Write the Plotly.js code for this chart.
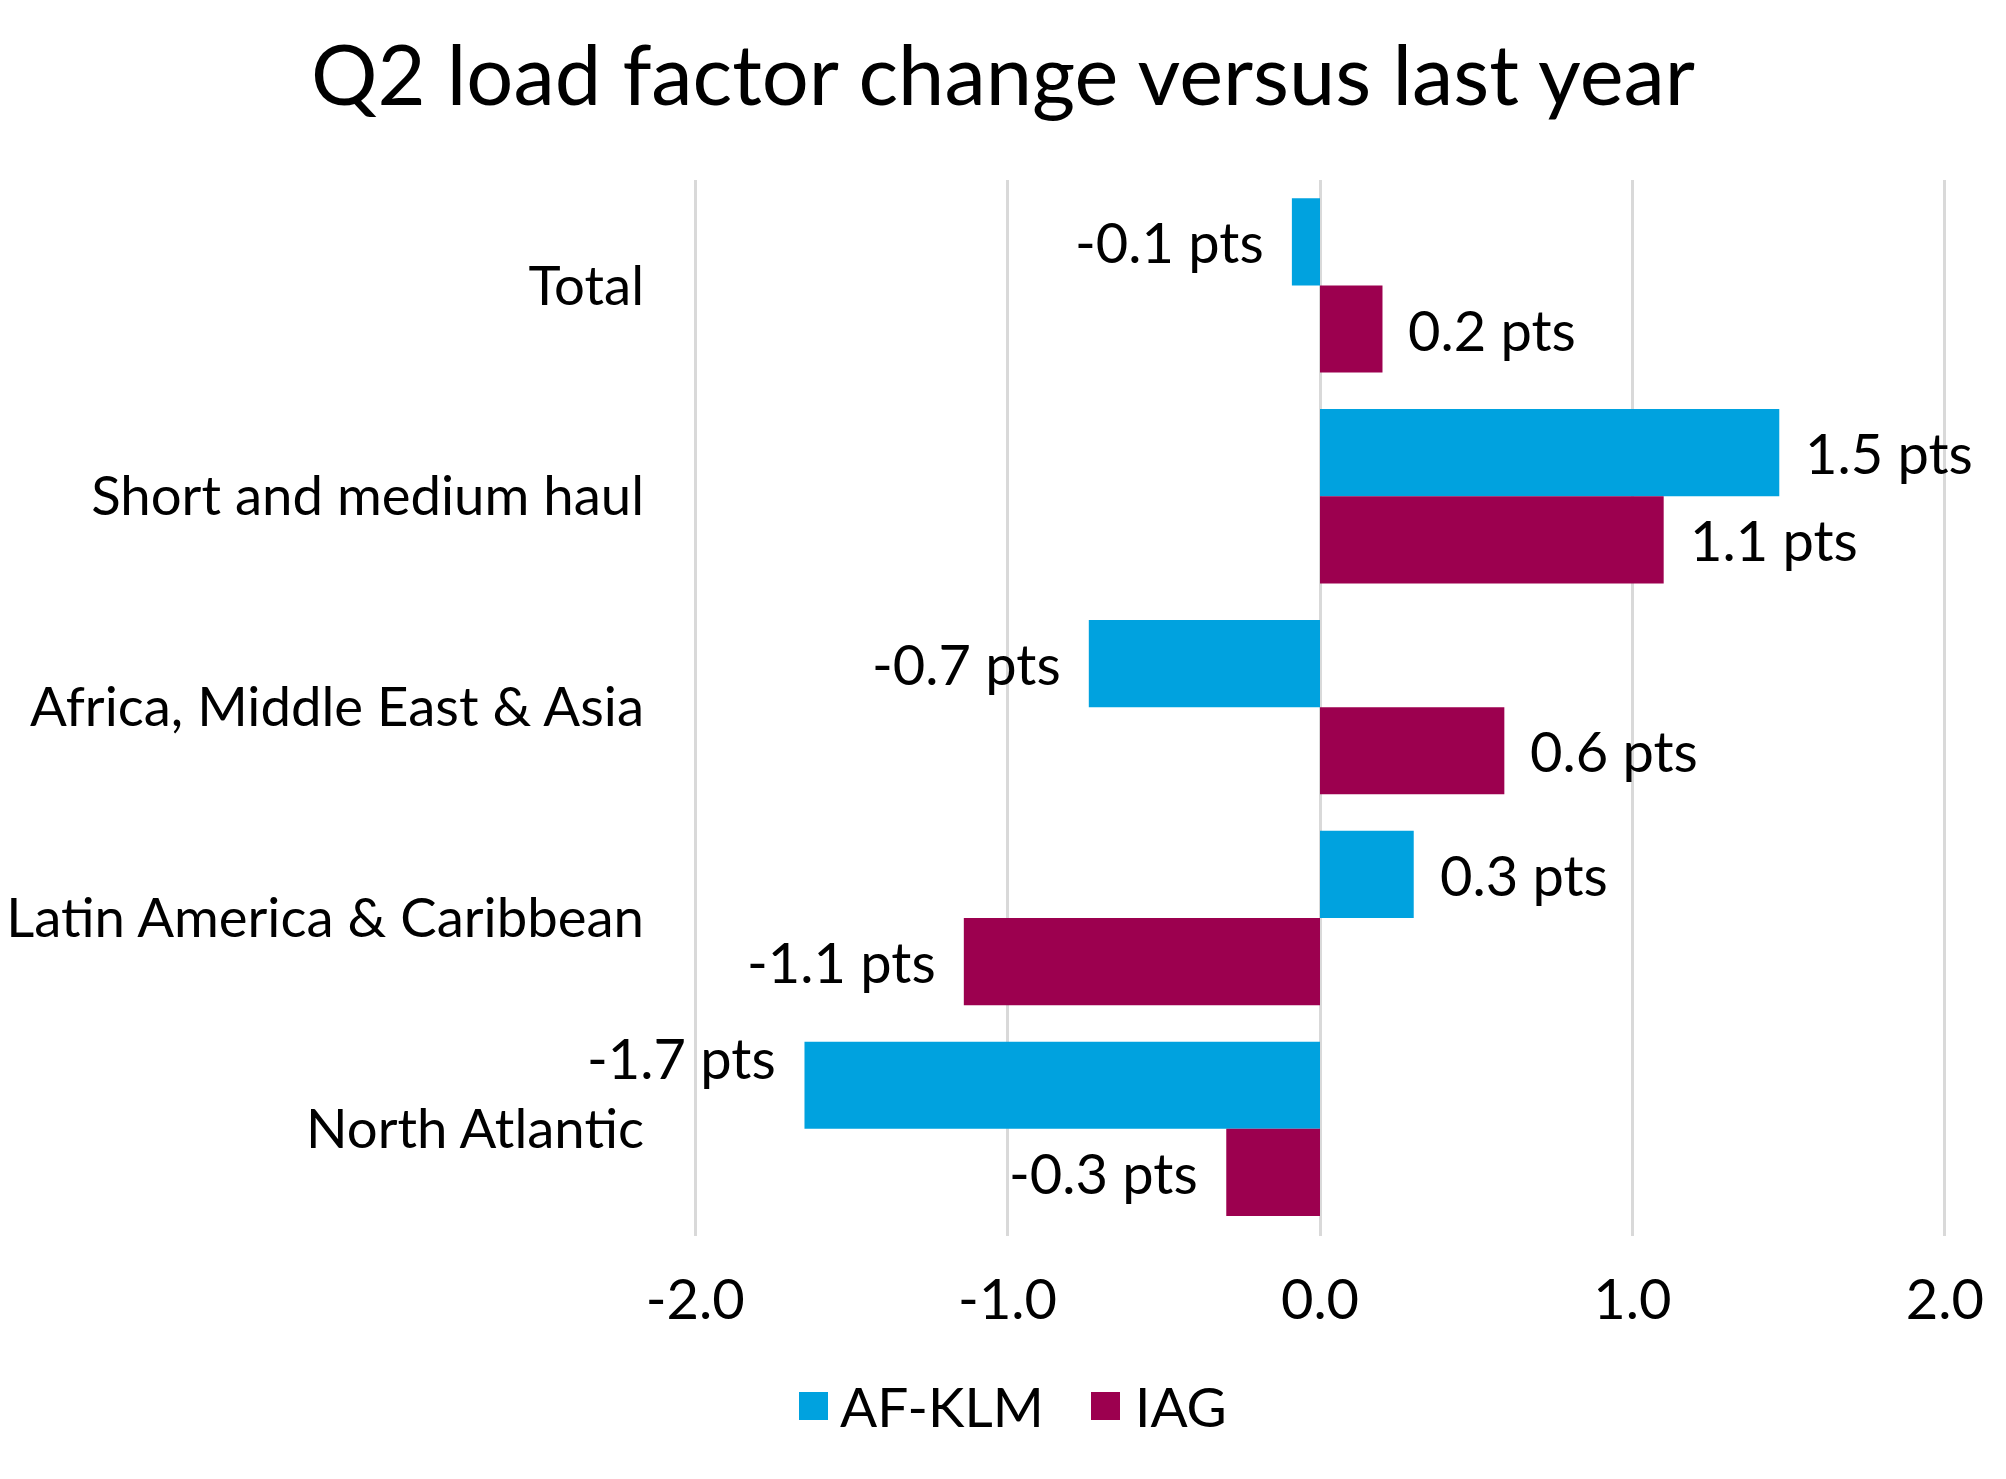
<!DOCTYPE html>
<html>
<head>
<meta charset="utf-8">
<script src="https://cdn.plot.ly/plotly-3.0.1.min.js"></script>
<style>
  html, body { margin: 0; padding: 0; background: #fff; }
  #chart { width: 2006px; height: 1479px; }
</style>
</head>
<body>
<div id="chart"></div>
<script>
// Values (bar ends), labels as printed
const categories = [
  "Total",
  "Short and medium haul",
  "Africa, Middle East & Asia",
  "Latin America & Caribbean",
  "North Atlantic",
];
const afklmValues = [-0.09, 1.47, -0.74, 0.30, -1.65];
const iagValues = [0.20, 1.10, 0.59, -1.14, -0.30];
const afklmLabels = ["-0.1 pts", "1.5 pts", "-0.7 pts", "0.3 pts", "-1.7 pts"];
const iagLabels = ["0.2 pts", "1.1 pts", "0.6 pts", "-1.1 pts", "-0.3 pts"];
const xTickValues = [-2, -1, 0, 1, 2];
const xTickLabels = ["-2.0", "-1.0", "0.0", "1.0", "2.0"];

const FONT = "Lato, 'Open Sans', sans-serif";
const W = 2006, H = 1479;
// a hair of extra range so the gridlines at -2 and 2 are not dropped at the edges
const X_RANGE = [-2.01, 2.01];
const margin = { l: 692, r: 58, t: 180, b: 243, pad: 0 };
const BARGAP = 0.173;
const plotW = W - margin.l - margin.r;
const plotH = H - margin.t - margin.b;

const series = [
  { name: "AF-KLM", color: "#00A2DF", values: afklmValues, labels: afklmLabels },
  { name: "IAG", color: "#9C004F", values: iagValues, labels: iagLabels },
];

// the -1.7 label sits a little higher in the original to clear the category text
const labelNudge = { "AF-KLM|North Atlantic": 28 };

// pixel -> paper helpers for the hand-drawn legend
const px2x = (px) => (px - margin.l) / plotW;
const px2y = (py) => (H - margin.b - py) / plotH;

const traces = series.map((s) => ({
  type: "bar",
  orientation: "h",
  name: s.name,
  y: categories,
  x: s.values,
  marker: { color: s.color, line: { width: 0 } },
  showlegend: false,
  hoverinfo: "skip",
}));

// outside-end data labels, offset to each bar's slot in the group
const bandPx = plotH / categories.length;
const barPx = (bandPx * (1 - BARGAP)) / series.length;
const annotations = [];
series.forEach((s, si) => {
  const slotShift = ((series.length - 1) / 2 - si) * barPx;
  s.values.forEach((v, i) => {
    const nudge = labelNudge[`${s.name}|${categories[i]}`] || 0;
    annotations.push({
      x: v,
      y: categories[i],
      xref: "x",
      yref: "y",
      text: s.labels[i],
      showarrow: false,
      xanchor: v < 0 ? "right" : "left",
      yanchor: "middle",
      xshift: v < 0 ? -26 : 24,
      yshift: slotShift + nudge,
      font: { family: FONT, size: 56, color: "#000" },
    });
  });
});

// legend: square swatches + names under the axis
const legendItems = [
  { name: "AF-KLM", color: series[0].color, sq: 799, txt: 838 },
  { name: "IAG", color: series[1].color, sq: 1091, txt: 1133 },
];
const legendY = 1406;
const shapes = [];
legendItems.forEach((it) => {
  shapes.push({
    type: "rect",
    xref: "paper",
    yref: "paper",
    x0: px2x(it.sq),
    x1: px2x(it.sq + 29),
    y0: px2y(legendY + 14),
    y1: px2y(legendY - 14),
    fillcolor: it.color,
    line: { width: 0 },
  });
  annotations.push({
    xref: "paper",
    yref: "paper",
    x: px2x(it.txt),
    y: px2y(legendY),
    text: it.name,
    showarrow: false,
    xanchor: "left",
    yanchor: "middle",
    font: { family: FONT, size: 55, color: "#000" },
  });
});

const layout = {
  width: W,
  height: H,
  margin: margin,
  paper_bgcolor: "#fff",
  plot_bgcolor: "#fff",
  font: { family: FONT, size: 56, color: "#000" },
  title: {
    text: "Q2 load factor change versus last year",
    font: { family: FONT, size: 83, color: "#000" },
    xref: "paper",
    x: 0.5 - (margin.l - margin.r) / 2 / plotW,
    xanchor: "center",
    yref: "container",
    y: 1 - 76 / H,
    yanchor: "middle",
  },
  barmode: "group",
  bargap: BARGAP,
  bargroupgap: 0,
  showlegend: false,
  xaxis: {
    range: X_RANGE,
    tickvals: xTickValues,
    ticktext: xTickLabels,
    showgrid: true,
    gridcolor: "#D9D9D9",
    gridwidth: 3,
    zeroline: false,
    showline: false,
    ticks: "",
    ticklabelstandoff: 26,
    tickfont: { family: FONT, size: 56, color: "#000" },
  },
  yaxis: {
    type: "category",
    autorange: "reversed",
    showgrid: false,
    zeroline: false,
    showline: false,
    ticks: "",
    ticklabelstandoff: 47,
    tickfont: { family: FONT, size: 54.5, color: "#000" },
  },
  shapes: shapes,
  annotations: annotations,
};

Plotly.newPlot("chart", traces, layout, { staticPlot: true, displayModeBar: false });
</script>
</body>
</html>
